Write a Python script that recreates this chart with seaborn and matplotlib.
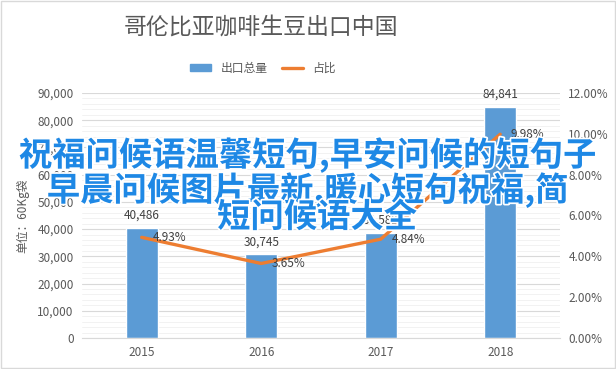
import matplotlib
matplotlib.use('Agg')
import matplotlib.pyplot as plt
import matplotlib.patheffects as pe
from matplotlib.lines import Line2D
from matplotlib.patches import Patch, Rectangle
from matplotlib.ticker import FuncFormatter, MultipleLocator
import numpy as np
import pandas as pd
import seaborn as sns

years = ['2015', '2016', '2017', '2018']
volumes = [40486, 30745, 38582, 84841]
shares = [4.93, 3.65, 4.84, 9.98]

title = '哥伦比亚咖啡生豆出口中国'
bar_name = '出口总量'
line_name = '占比'
ylabel = '单位：60Kg袋'
overlay = ['祝福问候语温馨短句,早安问候的短句子',
           '早晨问候图片最新,暖心短句祝福,简',
           '短问候语大全']

sns.set_style('white')
plt.rcParams['font.family'] = ['Noto Sans CJK SC', 'DejaVu Sans']

bar_color = '#5B9BD5'
line_color = '#ED7D31'
text_color = '#595959'

df = pd.DataFrame({'year': years, 'volume': volumes, 'share': shares})

fig = plt.figure(figsize=(6.16, 3.69), dpi=100)
ax = fig.add_axes([0.133, 0.084, 0.776, 0.664])

sns.barplot(data=df, x='year', y='volume', color=bar_color, width=0.27,
            saturation=1, ax=ax, zorder=2)
ax.set_ylim(0, 90000)
ax.set_xlim(-0.5, 3.5)
ax.yaxis.set_major_locator(MultipleLocator(10000))
ax.yaxis.set_minor_locator(MultipleLocator(2000))
ax.yaxis.set_major_formatter(FuncFormatter(lambda v, p: f'{int(v):,}'))
ax.grid(axis='y', which='major', color='#d9d9d9', lw=0.8, zorder=0)
ax.grid(axis='y', which='minor', color='#f0f0f0', lw=0.6, zorder=0)
ax.set_axisbelow(True)
for s in ['top', 'right', 'left']:
    ax.spines[s].set_visible(False)
ax.spines['bottom'].set_color('#d9d9d9')
ax.tick_params(axis='both', which='both', length=0, labelsize=8.5,
               colors=text_color, pad=6)
ax.set_xlabel('')
ax.set_ylabel(ylabel, fontsize=8.5, color=text_color, labelpad=6)

for i, v in enumerate(volumes):
    ax.text(i, v + 2200, f'{v:,}', ha='center', va='bottom',
            fontsize=8.5, color='#404040')

ax2 = ax.twinx()
sns.lineplot(x=np.arange(len(years)), y=shares, color=line_color, lw=2.4,
             ax=ax2, zorder=3)
ax2.set_ylim(0, 12)
ax2.yaxis.set_major_locator(MultipleLocator(2))
ax2.yaxis.set_major_formatter(FuncFormatter(lambda v, p: f'{v:.2f}%'))
for s in ax2.spines.values():
    s.set_visible(False)
ax2.tick_params(axis='y', length=0, labelsize=8.5, colors=text_color, pad=6)
for i, v in enumerate(shares):
    ax2.text(i + 0.09, v, f'{v:.2f}%', ha='left', va='center',
             fontsize=8.5, color='#404040')

fig.text(0.424, 0.925, title, ha='center', va='center', fontsize=16.5,
         color=text_color)
handles = [Patch(color=bar_color), Line2D([0], [0], color=line_color, lw=2.4)]
fig.legend(handles, [bar_name, line_name], loc='center', ncol=2,
           bbox_to_anchor=(0.427, 0.815), frameon=False, fontsize=8.5,
           handlelength=1.8, handleheight=0.6, columnspacing=1.2,
           labelcolor=text_color)

fig.patches.append(Rectangle((0.002, 0.003), 0.996, 0.994, fill=False,
                             edgecolor='#d9d9d9', lw=1, transform=fig.transFigure))

outline = [pe.withStroke(linewidth=2.5, foreground='white')]
for y, line in zip([0.58, 0.485, 0.41], overlay):
    fig.text(0.5 if y > 0.45 else 0.515, y, line, ha='center', va='center',
             fontsize=24, fontweight='bold', color='#1E88E5',
             path_effects=outline, zorder=10)

fig.savefig('out.png', dpi=100)
